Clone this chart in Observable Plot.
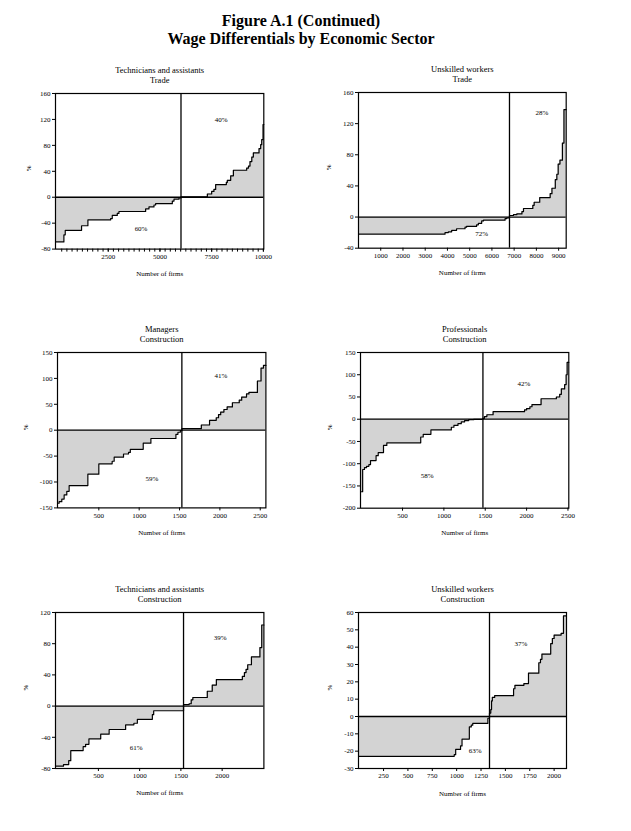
<!DOCTYPE html>
<html>
<head>
<meta charset="utf-8">
<script src="https://cdn.jsdelivr.net/npm/d3@7"></script>
<script src="https://cdn.jsdelivr.net/npm/@observablehq/plot@0.6"></script>
<style>
  html, body { margin: 0; padding: 0; background: #fff; }
  #page { position: relative; width: 631px; height: 831px; overflow: hidden; font-family: "Liberation Serif", "DejaVu Serif", serif; }
  .title { position: absolute; left: 0; width: 602px; text-align: center; font-weight: bold; font-size: 16px; line-height: 17.5px; top: 12px; color: #000; }
  svg { position: absolute; overflow: visible; }
</style>
</head>
<body>
<div id="page">
  <div class="title">Figure A.1 (Continued)<br>Wage Differentials by Economic Sector</div>
</div>
<script>
// ---------- DATA ----------
const panelTitles = [
  ["Technicians and assistants", "Trade"],
  ["Unskilled workers", "Trade"],
  ["Managers", "Construction"],
  ["Professionals", "Construction"],
  ["Technicians and assistants", "Construction"],
  ["Unskilled workers", "Construction"]
];

// step breakpoints (firm rank) and wage differential (%)
const p1X = [-50, 355, 420, 516, 1210, 1516, 2613, 2694, 2936, 3016, 4307, 4468, 4710, 4790, 5597, 5678, 5920, 6017, 7292, 7500, 7610, 7693, 8210, 8258, 8420, 8550, 9193, 9280, 9353, 9440, 9515, 9790, 9870, 9920, 9985, 10020];
const p1Y = [-69, -58, -51, -51, -44, -35, -33, -28, -25, -22, -18, -15, -12, -10, -6, -3, -1, 0.5, 5, 9, 12, 19.5, 23, 26, 33, 41.6, 45, 48, 55, 62, 68.4, 75, 81, 89, 112, 112];

const p2X = [0, 3890, 4040, 4190, 4410, 4790, 4860, 5310, 5390, 5540, 5620, 6590, 6670, 6790, 6970, 7120, 7350, 7420, 7840, 7900, 8150, 8620, 8700, 8850, 8920, 8980, 9060, 9170, 9240, 9340];
const p2Y = [-22, -20, -19, -17, -15, -13, -12, -10, -8, -5, -4, -2, -1, 2, 3, 4, 7, 11, 15, 19, 25, 30, 37, 48, 55, 68, 73, 95, 138, 138];

const p3X = [-12, 8, 41, 70, 103, 132, 364, 500, 665, 690, 806, 868, 890, 1050, 1145, 1455, 1480, 1510, 1529, 1770, 1872, 1955, 1983, 2010, 2050, 2090, 2155, 2240, 2270, 2330, 2360, 2465, 2510, 2540, 2570];
const p3Y = [-141, -138, -133, -125, -118, -107, -85, -65, -60, -52, -46, -43, -37, -25, -16, -8, -4, -1, 3, 10, 19, 24, 30, 35, 40, 45, 53, 58, 64, 70, 73, 95, 120, 125, 125];

const p4X = [-8, 18, 40, 65, 93, 113, 180, 206, 270, 310, 720, 750, 843, 1090, 1121, 1170, 1210, 1250, 1300, 1360, 1472, 1490, 1520, 1595, 1975, 2000, 2040, 2065, 2175, 2360, 2400, 2420, 2460, 2478, 2490, 2510];
const p4Y = [-163, -113, -109, -106, -102, -93, -82, -75, -59, -53, -40, -34, -24, -18, -14, -10, -6, -3, -1, -0.5, 2, 6, 10, 17, 21, 24, 28, 33, 46, 50, 56, 68, 78, 100, 128, 128];

const p5X = [-20, 77, 140, 165, 315, 345, 385, 528, 630, 830, 930, 972, 1154, 1170, 1532, 1600, 1625, 1645, 1820, 1880, 1930, 2245, 2270, 2290, 2310, 2355, 2458, 2480, 2506];
const p5Y = [-77, -75, -70, -57, -52, -49, -42, -36, -30, -24, -22, -17, -11, -6, 2, 3, 8, 11, 19, 27, 34, 38, 43, 47, 53, 63, 75, 104, 104];

const p6X = [-7, 975, 990, 1040, 1055, 1130, 1150, 1165, 1320, 1337, 1350, 1358, 1366, 1390, 1584, 1598, 1690, 1737, 1843, 1860, 1875, 1965, 1982, 2000, 2072, 2096, 2127];
const p6Y = [-23, -22, -19, -17, -13, -6, -5, -4, -1, 2, 4, 9, 11, 12, 16, 18, 19, 25, 31, 33, 36, 42, 45, 47, 48, 58, 58];

const xDomains = [[-50, 10020], [0, 9340], [-12, 2570], [-8, 2510], [-20, 2506], [-7, 2127]];
const yDomains = [[-80, 160], [-40, 160], [-150, 150], [-200, 150], [-80, 120], [-30, 60]];
const xTicks = [
  [2500, 5000, 7500, 10000],
  [1000, 2000, 3000, 4000, 5000, 6000, 7000, 8000, 9000],
  [500, 1000, 1500, 2000, 2500],
  [500, 1000, 1500, 2000, 2500],
  [500, 1000, 1500, 2000],
  [250, 500, 750, 1000, 1250, 1500, 1750, 2000]
];
const yTicks = [
  [-80, -40, 0, 40, 80, 120, 160],
  [-40, 0, 40, 80, 120, 160],
  [-150, -100, -50, 0, 50, 100, 150],
  [-200, -150, -100, -50, 0, 50, 100, 150],
  [-80, -40, 0, 40, 80, 120],
  [-30, -20, -10, 0, 10, 20, 30, 40, 50, 60]
];
const minorTicks1 = d3.range(250, 10020, 250);
const splits = [6017, 6790, 1529, 1472, 1532, 1337];
const posShare = ["40%", "28%", "41%", "42%", "39%", "37%"];
const negShare = ["60%", "72%", "59%", "58%", "61%", "63%"];
const posLabelXY = [[7955, 119], [8250, 134], [2012, 105], [1968, 80], [1977, 88], [1659, 42]];
const negLabelXY = [[4085, -48], [5540, -21], [1157, -94], [798, -127], [958, -54], [1190, -20]];

// ---------- LAYOUT ----------
const frames = [
  [55, 263.3, 92.7, 248.3],
  [358.3, 566, 92.3, 248],
  [57.3, 265.7, 352.3, 507.7],
  [360, 568.3, 352.3, 508],
  [55.3, 263.7, 612, 768],
  [357.7, 565.7, 612, 768]
];
const pctOffset = [-27, -30, -32, -31, -30, -29];
const seriesX = [p1X, p2X, p3X, p4X, p5X, p6X];
const seriesY = [p1Y, p2Y, p3Y, p4Y, p5Y, p6Y];

const ML = 45, MR = 12, MT = 35, MB = 38;
const page = document.getElementById("page");
const fmt = d => String(d);

for (let i = 0; i < 6; i++) {
  const [x0, x1, y0, y1] = frames[i];
  const data = seriesX[i].map((x, j) => ({x, y: seriesY[i][j]}));
  const marks = [
    Plot.areaY(data, {x: "x", y: "y", curve: "step-after", fill: "#d3d3d3"}),
    Plot.ruleY([0], {stroke: "black", strokeWidth: 1.3}),
    Plot.ruleX([splits[i]], {stroke: "black", strokeWidth: 1.3}),
    Plot.lineY(data, {x: "x", y: "y", curve: "step-after", stroke: "black", strokeWidth: 1.2}),
    Plot.frame({stroke: "black", strokeWidth: 1.2}),
    Plot.axisX(xTicks[i], {tickSize: 3, tickPadding: 2, tickFormat: fmt, fontSize: 7, fill: "black", label: null}),
    Plot.axisY(yTicks[i], {tickSize: 3, tickPadding: 2, tickFormat: fmt, fontSize: 7, fill: "black", label: null}),
    Plot.text([panelTitles[i][0]], {frameAnchor: "top", dy: -27, fontSize: 8.5, fill: "black", text: d => d}),
    Plot.text([panelTitles[i][1]], {frameAnchor: "top", dy: -17, fontSize: 8.5, fill: "black", text: d => d}),
    Plot.text(["Number of firms"], {frameAnchor: "bottom", dy: 27, fontSize: 7, fill: "black", text: d => d}),
    Plot.text(["%"], {frameAnchor: "left", dx: pctOffset[i], rotate: -90, fontSize: 7, fill: "black", text: d => d}),
    Plot.text([{x: posLabelXY[i][0], y: posLabelXY[i][1], t: posShare[i]}], {x: "x", y: "y", text: "t", fontSize: 7, fill: "black"}),
    Plot.text([{x: negLabelXY[i][0], y: negLabelXY[i][1], t: negShare[i]}], {x: "x", y: "y", text: "t", fontSize: 7, fill: "black"})
  ];
  if (i === 0) {
    marks.push(Plot.axisX(minorTicks1, {tickSize: 3, tickFormat: () => "", label: null}));
  }
  const svg = Plot.plot({
    width: (x1 - x0) + ML + MR,
    height: (y1 - y0) + MT + MB,
    marginLeft: ML, marginRight: MR, marginTop: MT, marginBottom: MB,
    style: {fontFamily: "'Liberation Serif', 'DejaVu Serif', serif", fontSize: "7px", background: "transparent", color: "black", overflow: "visible"},
    x: {domain: xDomains[i]},
    y: {domain: yDomains[i]},
    marks
  });
  svg.style.position = "absolute";
  svg.style.left = (x0 - ML) + "px";
  svg.style.top = (y0 - MT) + "px";
  page.appendChild(svg);
}
</script>
</body>
</html>
